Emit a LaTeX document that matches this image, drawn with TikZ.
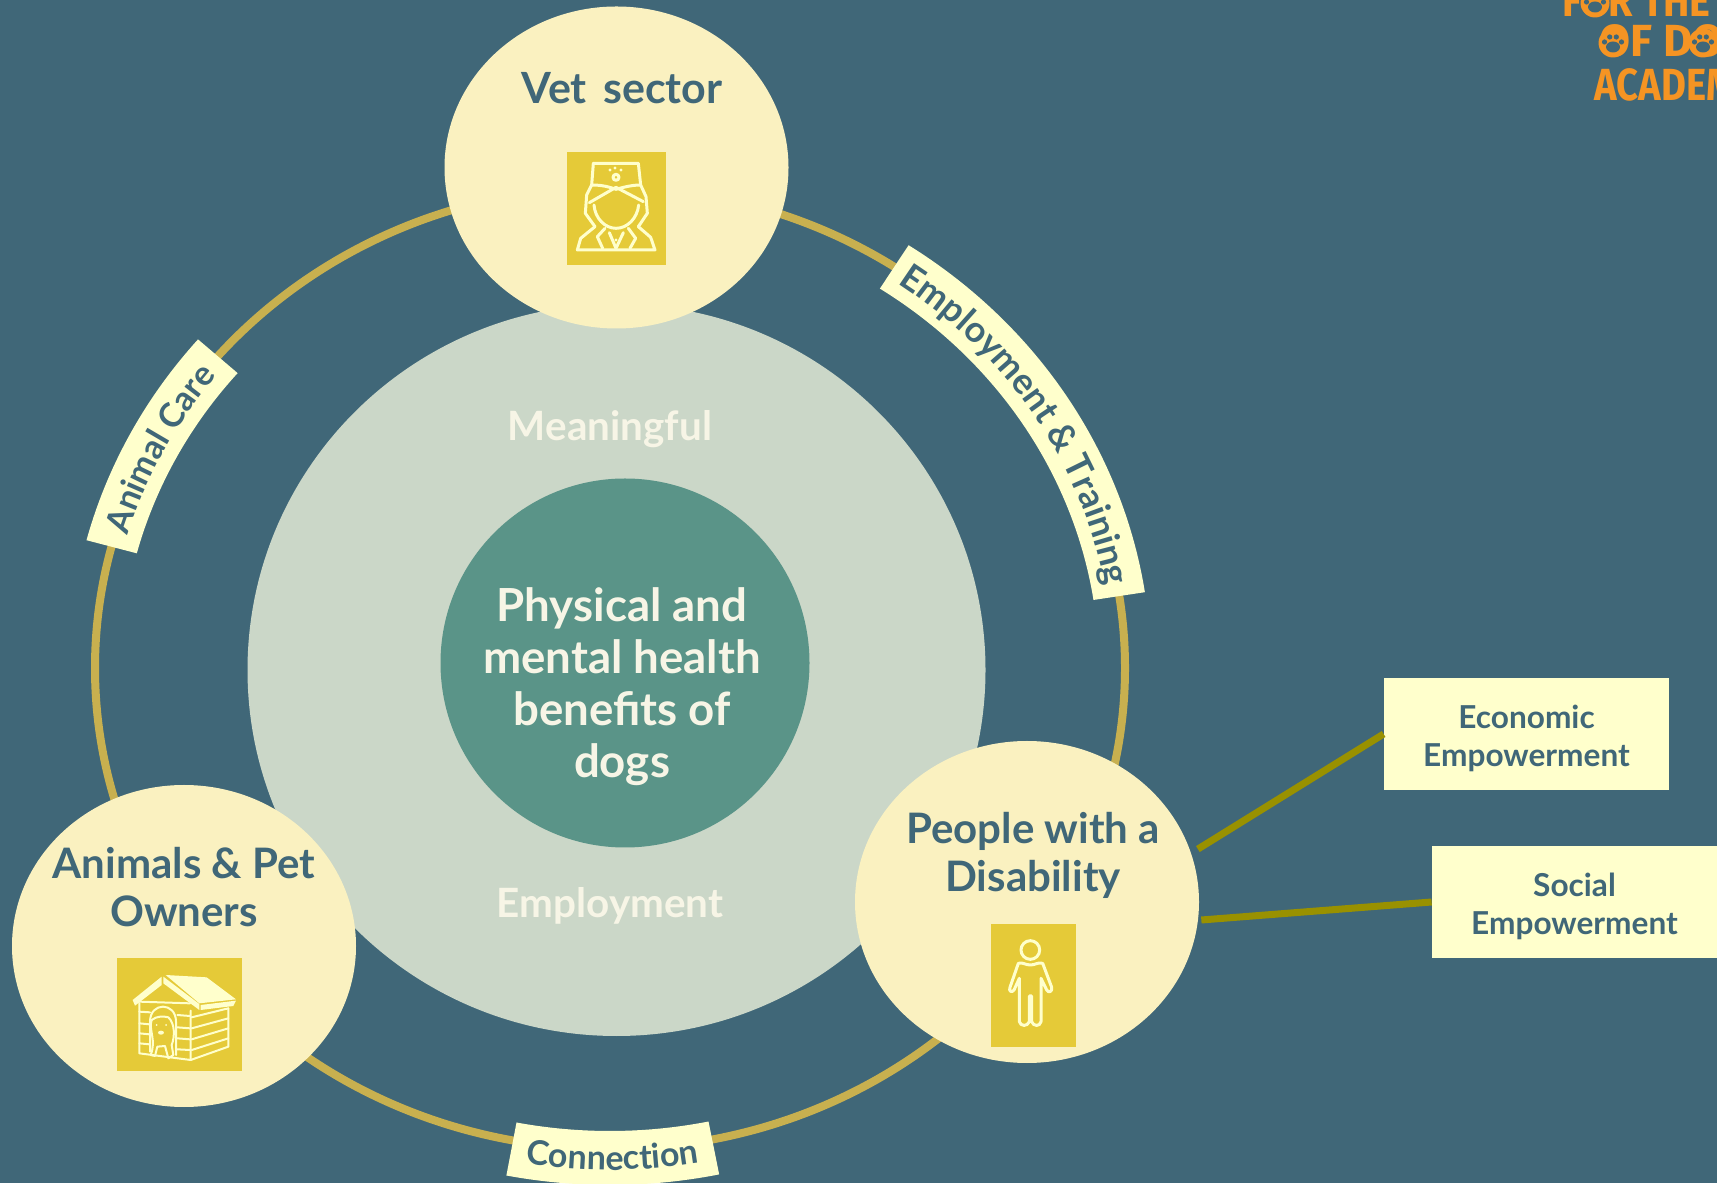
\documentclass[tikz,border=0pt]{standalone}
\usepackage{fontspec}
\setmainfont{Lato}
\usetikzlibrary{
	shapes.geometric,
	decorations.text
}
\definecolor{slate}{HTML}{406778}
\definecolor{sage}{HTML}{CBD7C8}
\definecolor{teal}{HTML}{5A9488}
\definecolor{cream}{HTML}{FAF1C0}
\definecolor{pale}{HTML}{FFFFCC}
\definecolor{mustard}{HTML}{E5CA38}
\definecolor{ringc}{HTML}{C8B04F}
\definecolor{olive}{HTML}{999100}
\definecolor{logoc}{HTML}{F59423}
\definecolor{softw}{HTML}{F7F5E6}
\newcommand{\ribfont}{\fontsize{17}{17}\bfseries\selectfont\color{slate}}
\newcommand{\ribfontwide}{\fontsize{18}{18}\bfseries\selectfont\color{slate}}
\tikzset{
	blob/.style={ellipse,fill=cream,minimum width=172pt,minimum height=161pt,inner sep=0pt},
	blobtext/.style={text=slate,font=\fontsize{21}{24}\bfseries\selectfont,align=center},
	softtext/.style={text=softw,font=\fontsize{20.2}{24}\bfseries\selectfont},
	sidebox/.style={rectangle,fill=pale,text=slate,minimum width=142.5pt,minimum height=56pt,inner sep=0pt,align=center,font=\fontsize{15.8}{19}\bfseries\selectfont},
	iconbox/.style={rectangle,fill=mustard,inner sep=0pt},
	iconline/.style={draw=pale,line width=1.5pt,line join=round,line cap=round},
	spoke/.style={draw=olive,line width=3.5pt},
	logotext/.style={text=logoc,font=\fontsize{22.5}{22}\fontspec{Fira Sans}\bfseries\selectfont,anchor=base west,inner sep=0pt},
	paw/.pic={
		\fill[logoc] (0,0) circle (14.5);
		\fill[slate] (0,-4) ellipse (7 and 5.5);
		\fill[slate] (-8.5,1) circle (2.6);
		\fill[slate] (8.5,1) circle (2.6);
		\fill[slate] (-3.3,6) circle (2.6);
		\fill[slate] (3.3,6) circle (2.6);
	}
}
\begin{document}
\begin{tikzpicture}[x=0.5pt,y=0.5pt]
    % Page
    \fill[slate] (0,0) rectangle (1717,1183);
    \clip (0,0) rectangle (1717,1183);
    % Ring
    \coordinate (centre) at (610,515);
    \node[ellipse,draw=ringc,line width=4pt,minimum width=515pt,minimum height=481pt,inner sep=0pt] (ring) at (centre) {};
    % Discs
    \node[ellipse,fill=sage,minimum width=369pt,minimum height=366pt,inner sep=0pt] (outer) at (616.5,513) {};
    \node[circle,fill=teal,minimum size=184.5pt,inner sep=0pt] (inner) at (625,520) {};
    \node[softtext] (meaning) at (610,754) {Meaningful};
    \node[softtext] (employ) at (610,277) {Employment};
    \node[text=softw,align=center,font=\fontsize{22.8}{26}\bfseries\selectfont] (health) at (622,496) {Physical and\\mental health\\benefits of\\dogs};
    % Stakeholders
    \node[blob] (vet) at (616.5,1015.5) {};
    \node[blob] (owners) at (184,237) {};
    \node[blob] (people) at (1027,281) {};
    \node[blobtext,font=\fontsize{21.5}{24}\bfseries\selectfont] (vettext) at (622,1095) {Vet \hspace{3pt}sector};
    \node[blobtext] (ownerstext) at (184,296) {Animals \& Pet\\Owners};
    \node[blobtext] (peopletext) at (1033,328) {People with a\\Disability};
    % Side boxes
    \node[sidebox] (econ) at (1526.5,449) {\rule{0pt}{16pt}Economic\\Empowerment};
    \node[sidebox] (social) at (1574.5,281) {\rule{0pt}{16pt}Social\\Empowerment};
    \draw[spoke] ([xshift=4pt]people.18) -- (econ.west);
    \draw[spoke] ([xshift=1.5pt]people.-6) -- (social.west);
    % Ribbons
    \fill[pale] ([shift={(165.4:541 and 507)}]centre) arc[start angle=165.4,end angle=139.6,x radius=541,y radius=507] -- ([shift={(139.6:489 and 455)}]centre) arc[start angle=139.6,end angle=165.4,x radius=489,y radius=455] -- cycle;
    \path[postaction={decorate,decoration={text along path,text align=center,text={|\ribfont|Animal Care}}}] ([shift={(165.4:503 and 469)}]centre) arc[start angle=165.4,end angle=139.6,x radius=503,y radius=469];
    \fill[pale] ([shift={(56.5:541 and 507)}]centre) arc[start angle=56.5,end angle=8.6,x radius=541,y radius=507] -- ([shift={(8.6:489 and 455)}]centre) arc[start angle=8.6,end angle=56.5,x radius=489,y radius=455] -- cycle;
    \path[postaction={decorate,decoration={text along path,text align=center,text={|\ribfontwide|Employment {\&} Training}}}] ([shift={(56.5:503 and 469)}]centre) arc[start angle=56.5,end angle=8.6,x radius=503,y radius=469];
    \fill[pale] ([shift={(259:543 and 517)}]centre) arc[start angle=259,end angle=281.6,x radius=543,y radius=517] -- ([shift={(281.6:490 and 463)}]centre) arc[start angle=281.6,end angle=259,x radius=490,y radius=463] -- cycle;
    \path[postaction={decorate,decoration={text along path,text align=center,text={|\ribfont|Connection}}}] ([shift={(259:529 and 502)}]centre) arc[start angle=259,end angle=281.6,x radius=529,y radius=502];
    % Vet icon
    \node[iconbox,minimum width=49.5pt,minimum height=56.5pt] (veticon) at (616.5,974.5) {};
    \begin{scope}[shift={(540,1053)},xscale=1/3,yscale=-1/3]
        \draw[iconline] (160,100) -- (295,100) -- (302,165) -- (318,200) -- (322,250) -- (295,290);
        \draw[iconline] (160,100) -- (155,165) -- (140,195) -- (136,250) -- (165,290);
        \draw[iconline] (155,165) .. controls (190,165) and (210,172) .. (228,178) .. controls (250,172) and (275,165) .. (302,165);
        \draw[iconline] (148,218) -- (228,172) -- (310,215);
        \draw[iconline] (162,225) .. controls (165,265) and (195,295) .. (228,295) .. controls (262,295) and (292,265) .. (296,225);
        \draw[iconline] (165,290) -- (122,325) -- (112,360) -- (345,360) -- (332,322) -- (295,290);
        \draw[iconline] (195,295) -- (172,320) -- (188,355);
        \draw[iconline] (265,295) -- (287,325) -- (270,355);
        \draw[iconline] (208,308) -- (228,355) -- (250,308);
        \draw[iconline] (228,142) circle (9);
        \fill[pale] (210,120) circle (5) (225,114) circle (5) (243,120) circle (5) (228,330) circle (5);
    \end{scope}
    % Kennel icon
    \node[iconbox,minimum width=62.5pt,minimum height=56.5pt] (kennelicon) at (179.5,168.5) {};
    \begin{scope}[shift={(100,243)},xscale=1/3,yscale=-1/3]
        \fill[pale] (197,105) -- (320,112) -- (408,178) -- (298,190) -- cycle;
        \fill[pale] (98,180) -- (185,110) -- (185,135) -- (105,197) -- cycle;
        \fill[pale] (190,110) -- (298,192) -- (298,210) -- (190,130) -- cycle;
        \fill[pale] (302,195) -- (408,182) -- (400,198) -- (302,210) -- cycle;
        \draw[iconline,line width=1pt] (118,190) -- (118,340) -- (272,360) -- (272,212);
        \draw[iconline,line width=1pt] (272,360) -- (385,320) -- (385,205);
        \draw[iconline,line width=1pt] (118,185) -- (270,190);
        \draw[iconline,line width=1pt] (118,215) -- (150,217) (232,225) -- (270,228);
        \draw[iconline,line width=1pt] (118,250) -- (148,253) (232,262) -- (270,265);
        \draw[iconline,line width=1pt] (118,280) -- (148,283) (232,295) -- (270,298);
        \draw[iconline,line width=1pt] (118,310) -- (148,313) (232,328) -- (270,330);
        \draw[iconline,line width=1pt] (275,232) -- (385,205) (275,265) -- (385,235) (275,298) -- (385,265) (275,330) -- (385,295);
        \draw[iconline,line width=1pt] (150,335) -- (150,245) .. controls (150,185) and (228,185) .. (228,245) -- (228,345);
        \draw[iconline,line width=1pt] (155,240) .. controls (145,270) and (170,300) .. (152,345) -- (165,348) -- (172,320) -- (195,318) -- (205,355) -- (220,345) -- (215,315) .. controls (225,290) and (225,250) .. (205,232) .. controls (190,228) and (170,228) .. (155,240);
        \fill[pale] (183,278) ellipse (9 and 6) (170,255) circle (3) (198,255) circle (3);
    \end{scope}
    % Person icon
    \node[iconbox,minimum width=42.5pt,minimum height=61.5pt] (personicon) at (1033.5,197.5) {};
    \begin{scope}[shift={(970,273)},xscale=1/3,yscale=-1/3]
        \draw[iconline] (181,120) circle (28);
        \draw[iconline] (145,160) .. controls (160,156) and (165,165) .. (181,165) .. controls (197,165) and (202,156) .. (218,160)
            -- (245,232) .. controls (248,245) and (235,250) .. (230,240) -- (213,205) -- (213,335) .. controls (210,350) and (190,350) .. (185,335) -- (185,258) -- (178,258) -- (178,335) .. controls (172,350) and (152,350) .. (148,335) -- (148,205) -- (132,240) .. controls (125,250) and (115,243) .. (120,232) -- cycle;
    \end{scope}
    % Logo
    \node[logotext,xscale=0.88,transform shape] (logoa) at (1562,1166) {FOR THE};
    \node[logotext] (logob) at (1599,1126) {OF DOG};
    \node[logotext,xscale=0.85,transform shape] (logoc) at (1594,1082) {ACADEMY};
    \pic at (1595,1180) {paw};
    \pic at (1613,1140) {paw};
    \pic at (1703,1140) {paw};
\end{tikzpicture}
\end{document}
